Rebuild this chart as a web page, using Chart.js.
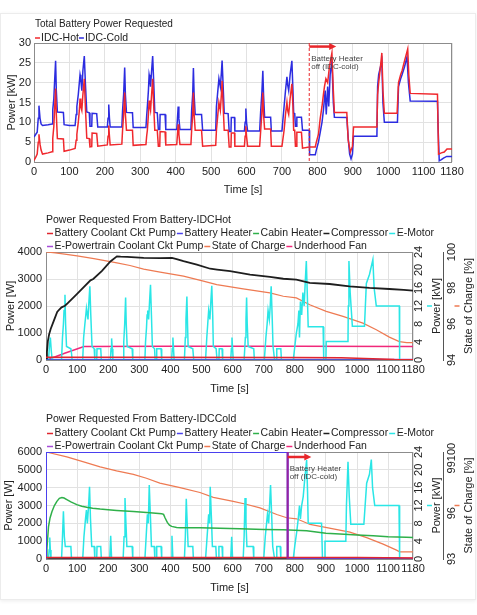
<!DOCTYPE html>
<html><head><meta charset="utf-8">
<script src="https://cdn.jsdelivr.net/npm/chart.js@4.4.1/dist/chart.umd.min.js"></script>
<style>
html,body{margin:0;padding:0;background:#fff;width:477px;height:615px;overflow:hidden}
.card{position:absolute;left:0;top:13px;width:474px;height:585px;border:1px solid #ececec;box-shadow:0 1px 4px rgba(0,0,0,0.08);background:#fff}
canvas{position:absolute;left:0}
</style></head><body>
<div class="card"></div>
<canvas id="c1" width="477" height="200" style="top:0px"></canvas>
<canvas id="c2" width="477" height="200" style="top:200px"></canvas>
<canvas id="c3" width="477" height="200" style="top:400px"></canvas>
<script>
// ---------- tick labels ----------
const timeTicks = [0,100,200,300,400,500,600,700,800,900,1000,1100,1180];
const socTicksHot = [94,96,98,100];
const socTicksCold = [93,96,99,100];
const heaterOffT = 777;      // battery heater switched off (IDC-cold)
const arrowEndT = 853;

// ---------- chart 1: total battery power [kW] ----------
const idcHot = [[0,0.4],[5,1.2],[9,2],[12,5],[14,7],[17,4.5],[20,3],[24,2],[40,2.3],[51,2.6],[53,6],[56,9],[58,13],[61,18.5],[63,12],[66,5.9],[83,5.8],[85,2.7],[100,3],[116,3.4],[119,5.5],[121,7],[125,10],[128,13],[130,16],[132,14],[135,13],[138,17],[142,21],[145,14],[149,6],[156,5.9],[158,3.8],[163,3.9],[164,7.3],[177,7.2],[180,4],[207,4.3],[209,6.5],[211,9.2],[213,6.5],[215,4.3],[248,4.5],[250,8],[253,12],[256,17.5],[258,12],[261,8],[278,8],[280,4.2],[316,4.4],[318,6.5],[320,8],[323,12],[325,15.5],[327,14],[329,13],[332,17],[335,21],[338,14],[341,8],[348,8],[351,4],[355,4],[356,7.7],[370,7.6],[372,4.3],[403,4.4],[405,7],[407,9.5],[409,7],[412,4.4],[443,4.4],[445,8],[448,12],[450,17.5],[452,12],[455,8],[473,8],[476,4],[513,4.2],[515,8],[518,11],[522,15],[524,14],[526,13],[529,17],[531,20.5],[534,14],[537,8],[548,8],[551,3.8],[556,3.8],[557,7.3],[566,7.3],[567,4],[594,4],[596,6.5],[598,9],[600,6.5],[603,4],[637,4],[640,8],[643,12],[646,17.5],[648,12],[651,8.3],[668,8.3],[670,4],[700,4],[703,6],[706,8],[710,12],[714,15],[716,13],[719,12],[723,16],[728,19.7],[731,14],[733,8],[736,8],[738,4],[741,4],[742,7.5],[755,7.5],[758,3.5],[777,3.8],[794,3.8],[797,5],[803,7],[808,11],[813,14],[817,17],[820,19],[824,21],[829,20],[834,24],[841,27.5],[845,18],[848,12.5],[883,12.5],[887,5.5],[893,2.5],[899,4],[902,8.8],[968,8.8],[970,17],[973,20],[978,24],[982,27.5],[985,18],[989,12.3],[1025,12.3],[1029,20],[1035,22],[1039,23],[1046,25.5],[1055,28.5],[1058,22],[1062,17.3],[1139,17.1],[1142,2],[1150,2.3],[1158,2.5],[1166,3.3],[1180,3.3]];
const idcCold = [[0,6.3],[5,7],[9,7.5],[12,11],[14,14.2],[17,11],[20,9.6],[24,9.2],[40,9.4],[51,9.6],[53,13.2],[56,16],[58,20],[61,25.5],[63,18],[66,12.6],[83,12.5],[85,9.4],[100,9.2],[116,9.2],[119,12],[121,14],[125,17],[128,20],[130,22],[132,21],[135,18],[138,23],[142,26.7],[145,20],[149,12.6],[156,12.4],[158,9],[163,9],[164,12.3],[177,12.2],[180,8.8],[207,8.8],[209,11],[211,14.5],[213,11],[215,8.8],[248,8.8],[250,13],[253,17],[256,23.8],[258,17],[261,12.5],[278,12.4],[280,8.7],[316,8.7],[318,11.5],[320,14],[323,18],[325,22],[327,21],[329,19],[332,23],[335,26.7],[338,20],[341,12.5],[348,12.4],[351,8.2],[355,8.2],[356,12],[370,12],[372,8.2],[403,8.2],[405,11],[407,14],[409,11],[412,8.2],[443,8.2],[445,13],[448,17],[450,23.7],[452,17],[455,12],[473,12],[476,8],[513,8],[515,14],[518,17],[522,21],[524,20],[526,19],[529,22.5],[531,25.6],[534,19],[537,12.3],[548,12.2],[551,7.7],[556,7.7],[557,11.2],[566,11.2],[567,7.8],[594,7.8],[596,10],[598,13.5],[600,10],[603,7.8],[637,7.8],[640,13],[643,17],[646,23],[648,17],[651,11.3],[668,11.3],[670,7.8],[700,7.8],[703,11],[706,14],[710,18],[714,21.5],[716,19.5],[719,18],[723,22],[728,25.5],[731,18],[733,12.3],[736,12.2],[738,9],[741,9],[742,11.3],[755,11.3],[758,8],[777,8],[778,1.8],[794,1.8],[797,3],[803,5],[808,7.5],[813,10],[817,13],[819,15],[822,18],[825,12],[829,19],[832,14],[836,22],[841,25.5],[845,15],[848,11.3],[883,11.2],[887,6],[891,2],[895,0.8],[899,2],[902,6.5],[968,6.5],[970,19],[973,22],[982,25.5],[985,15],[989,10],[1026,10],[1029,19],[1035,21],[1039,22],[1046,24],[1053,26.5],[1057,20],[1062,15.4],[1139,15.3],[1141,8],[1144,0.3],[1150,0.6],[1156,1],[1165,1.4],[1180,1.4]];

// ---------- chart 2: IDC-Hot components ----------
const hotPump = [[0,100],[300,100],[800,95],[950,80],[1050,50],[1120,15],[1180,10]];
const hotHeater = [[0,0],[1180,0]];
const hotCabin = [[0,0],[1180,0]];
const hotCompressor = [[0,0],[3,300],[6,700],[10,950],[15,1150],[25,1450],[36,1780],[42,1860],[50,1950],[61,2010],[70,2110],[100,2450],[143,2950],[152,3000],[180,3300],[207,3650],[228,3840],[240,3830],[261,3820],[314,3780],[367,3770],[405,3780],[420,3740],[442,3660],[485,3530],[528,3380],[550,3350],[592,3290],[656,3160],[720,3080],[763,3010],[805,2980],[848,2860],[912,2815],[976,2730],[1040,2670],[1104,2630],[1150,2600],[1180,2570]];
const hotEMotor = [[0,0],[8,0],[11,3],[14,5],[17,2],[20,0],[50,0],[53,5],[56,8],[58,11],[61,14.5],[63,8],[66,3],[80,2.5],[82,1.5],[84,0],[118,0],[121,5],[125,8],[128,10],[130,11.5],[133,10],[135,9],[138,13],[141,16.4],[144,10],[148,3],[155,2.5],[157,0],[163,0],[164,2.5],[176,2.5],[178,0],[207,0],[209,2.5],[211,4.8],[213,2.5],[215,0],[248,0],[250,4],[253,8],[256,13.9],[258,8],[261,3],[277,2.5],[279,0],[318,0],[320,4],[323,7],[325,10],[327,11],[330,9],[333,13],[336,16.7],[339,10],[342,3],[349,2.5],[351,0],[355,0],[356,2.5],[370,2.5],[372,0],[404,0],[406,2.5],[408,5],[410,2.5],[412,0],[445,0],[448,5],[450,9],[453,14.1],[455,8],[457,3],[472,2.5],[475,0],[513,0],[517,5],[520,8],[523,11],[525,10],[527,9],[530,13],[533,16.5],[536,10],[538,3],[547,2.5],[550,0],[556,0],[557,2.5],[566,2.5],[568,0],[594,0],[596,2.5],[598,5],[600,2.5],[602,0],[637,0],[641,5],[643,9],[645,13.9],[647,8],[650,3],[668,2.5],[670,0],[702,0],[707,5],[711,8],[714,11],[718,9],[721,12],[724,16.4],[727,10],[730,3],[735,0],[741,0],[742,2.5],[755,2.5],[757,0],[795,0],[800,3],[805,6],[810,8],[813,11],[815,5],[818,13],[822,10],[826,15],[830,12],[834,18],[837,22],[840,15],[843,7.4],[891,7.4],[893,0],[900,0],[901,4.1],[971,4.1],[972,12],[974,22],[978,15],[985,7.5],[1024,7.5],[1030,17],[1040,19],[1051,22.3],[1055,16],[1062,12],[1136,12],[1137,0],[1180,0]];
const hotEPTPump = [[0,20],[1180,20]];
const hotSoC = [[0,100],[30,99.95],[60,99.88],[100,99.78],[154,99.63],[228,99.4],[270,99.25],[314,99.05],[367,98.88],[442,98.66],[506,98.38],[549,98.19],[634,97.95],[720,97.73],[763,97.54],[805,97.45],[848,97.07],[901,96.7],[955,96.42],[1019,96.05],[1062,95.68],[1104,95.27],[1136,95.02],[1160,94.97],[1180,94.97]];
const hotFan = [[0,0],[30,120],[60,250],[122,500],[400,505],[800,505],[1180,500]];

// ---------- chart 3: IDC-Cold components ----------
const coldPump = [[0,90],[600,90],[1000,80],[1180,60]];
const coldHeater = [[0,0],[0,6000],[777,6000],[777,0],[1180,0]];
const coldCabin = [[0,0],[3,600],[8,1800],[13,2300],[19,2650],[27,3000],[35,3230],[43,3400],[51,3450],[58,3420],[67,3330],[80,3200],[99,3050],[115,2960],[131,2900],[150,2850],[174,2800],[200,2760],[227,2720],[281,2660],[334,2590],[372,2540],[378,2500],[383,2300],[390,2050],[397,1900],[404,1830],[420,1770],[431,1750],[495,1750],[559,1720],[623,1690],[700,1660],[763,1640],[838,1580],[900,1450],[945,1400],[1000,1350],[1052,1300],[1100,1250],[1159,1220],[1180,1200]];
const coldCompressor = [[0,0],[1180,0]];
const coldEMotor = [[0,0],[8,0],[10,2],[12,4.8],[14,2],[16,0],[50,0],[53,5],[56,10.7],[59,5],[62,2.8],[80,2.8],[82,0],[118,0],[122,5],[127,9],[130,11],[133,8],[137,12],[140,16.2],[143,9],[147,2.8],[155,2.8],[157,0],[163,0],[164,2.8],[176,2.8],[178,0],[205,0],[208,5.2],[211,0],[248,0],[251,5],[254,13.7],[257,8],[260,2.8],[277,2.8],[279,0],[318,0],[322,5],[326,10],[329,8],[332,16.6],[336,9],[339,2.8],[348,2.8],[350,0],[355,0],[356,2.8],[370,2.8],[372,0],[402,0],[405,5.2],[408,0],[445,0],[448,5],[451,13.5],[454,8],[457,2.8],[472,2.8],[474,0],[513,0],[518,5],[523,10],[526,8],[528,16.2],[532,9],[535,2.8],[546,2.8],[548,0],[555,0],[556,2.8],[566,2.8],[568,0],[594,0],[597,5],[600,0],[634,0],[637,5],[640,13.7],[643,8],[646,2.8],[666,2.8],[668,0],[700,0],[705,5],[712,10],[716,8],[722,16.6],[726,9],[729,2.8],[735,0],[741,0],[742,2.8],[753,2.8],[755,0],[795,0],[800,3],[806,6],[811,9],[815,12],[818,9],[822,12],[827,14],[832,18],[838,22.2],[841,15],[843,8],[886,8],[889,0],[895,0],[897,4],[964,4],[966,12],[971,21.8],[975,14],[980,7.8],[1022,7.8],[1031,17],[1040,19],[1046,22.3],[1050,16],[1057,12],[1135,12],[1137,0],[1180,0]];
const coldEPTPump = [[0,15],[1180,15]];
const coldSoC = [[0,100],[67,99.68],[121,99.35],[174,99.03],[227,98.77],[281,98.54],[323,98.28],[366,97.96],[431,97.67],[495,97.35],[538,97.03],[602,96.77],[640,96.6],[688,96.34],[742,95.91],[774,95.7],[806,95.63],[849,95.26],[903,95.05],[977,94.76],[1031,94.4],[1084,93.97],[1127,93.58],[1137,93.47],[1180,93.47]];
const coldFan = [[0,40],[1180,40]];

// ---------- styling ----------
const FONT = "'Liberation Sans', Arial, Helvetica, sans-serif";
Chart.defaults.font.family = FONT;
Chart.defaults.font.size = 11;
Chart.defaults.color = '#222';
const C = {hot:'#f0282d', cold:'#2c2ce0', pump:'#e0262e', heater:'#4a40ee', cabin:'#2fb04a', comp:'#1e1e1e', emotor:'#2ae6e6', ept:'#a64dd8', soc:'#ee7a52', fan:'#f0287a'};
const GRID = '#e2e2e2';
const plain = v => String(v);

function pts(a){ return a.map(p => ({x:p[0], y:p[1]})); }
function line(label, arr, color, axis, w){
  return {label, data: pts(arr), borderColor: color, backgroundColor: color, borderWidth: w || 1.5,
          pointRadius: 0, tension: 0, fill: false, yAxisID: axis || 'y'};
}

const deco = {
  id: 'deco',
  beforeDatasetsDraw(chart, args, o){
    const a = chart.chartArea, ctx = chart.ctx;
    ctx.save(); ctx.strokeStyle = '#8c8c8c'; ctx.lineWidth = 1;
    ctx.strokeRect(Math.round(a.left)+0.5, Math.round(a.top)+0.5, Math.round(a.right-a.left)-1, Math.round(a.bottom-a.top));
    ctx.restore();
  },
  afterDraw(chart, args, o){
    const ctx = chart.ctx, a = chart.chartArea;
    ctx.save();
    ctx.textBaseline = 'middle'; ctx.textAlign = 'left'; ctx.fillStyle = '#222';
    ctx.font = o.titleFont; ctx.fillText(o.title, o.titleX, o.titleY);
    ctx.font = o.legendFont;
    let x = o.titleX, row = 0;
    chart.data.datasets.forEach((ds, i) => {
      if (o.legendBreak && i === o.legendBreak){ row = 1; x = o.titleX; }
      const y = o.legendY[row];
      x += o.mk[0];
      ctx.strokeStyle = ds.borderColor; ctx.lineWidth = 1.5;
      ctx.beginPath(); ctx.moveTo(x, y); ctx.lineTo(x + o.mk[1], y); ctx.stroke();
      x += o.mk[1] + o.mk[2];
      ctx.fillStyle = '#222'; ctx.fillText(ds.label, x, y);
      x += ctx.measureText(ds.label).width;
    });
    (o.rightAxes || []).forEach(r => {
      const s = chart.scales[r.id];
      ctx.fillStyle = '#222'; ctx.textAlign = 'center'; ctx.textBaseline = 'middle';
      ctx.font = '11px ' + FONT;
      s.ticks.forEach(t => {
        const y = s.getPixelForValue(t.value);
        ctx.save(); ctx.translate(s.left + r.labelDx, y); ctx.rotate(-Math.PI/2); ctx.fillText(String(t.value), 0, 0); ctx.restore();
      });
      const cy = (a.top + a.bottom) / 2;
      ctx.save(); ctx.translate(s.left + r.titleDx, cy); ctx.rotate(-Math.PI/2); ctx.fillText(r.title, 0, 0); ctx.restore();
      ctx.strokeStyle = r.marker; ctx.lineWidth = 1.5;
      ctx.beginPath(); ctx.moveTo(s.left + r.markerDx - 2.5, cy); ctx.lineTo(s.left + r.markerDx + 2.5, cy); ctx.stroke();
    });
    if (o.note){
      const n = o.note, xs = chart.scales.x, ys = chart.scales.y;
      const x0 = xs.getPixelForValue(n.t), x1 = xs.getPixelForValue(n.arrowT);
      ctx.strokeStyle = n.lineColor; ctx.lineWidth = n.lineW;
      ctx.setLineDash(n.dash || []);
      ctx.beginPath(); ctx.moveTo(x0, a.top); ctx.lineTo(x0, a.bottom); ctx.stroke();
      ctx.setLineDash([]);
      const ay = ys.getPixelForValue(n.arrowV);
      ctx.strokeStyle = '#e8262a'; ctx.fillStyle = '#e8262a'; ctx.lineWidth = 2.5;
      ctx.beginPath(); ctx.moveTo(x0, ay); ctx.lineTo(x1 - 6, ay); ctx.stroke();
      ctx.beginPath(); ctx.moveTo(x1, ay); ctx.lineTo(x1 - 7, ay - 3.5); ctx.lineTo(x1 - 7, ay + 3.5); ctx.closePath(); ctx.fill();
      ctx.fillStyle = '#444'; ctx.font = '8px ' + FONT; ctx.textAlign = 'left';
      ctx.fillText('Battery Heater', x0 + 2, ys.getPixelForValue(n.text1V));
      ctx.fillText('off (IDC-cold)', x0 + 2, ys.getPixelForValue(n.text2V));
    }
    ctx.restore();
  }
};

function xAxis(h, padTop, padBottom){
  return {type:'linear', min:0, max:1180,
    afterBuildTicks: s => { s.ticks = timeTicks.map(v => ({value:v})); },
    afterFit: s => { s.height = h; },
    grid:{color:GRID, drawTicks:false}, border:{display:false},
    ticks:{autoSkip:false, maxRotation:0, padding:padTop, font:{size:11}, callback: plain},
    title:{display:true, text:'Time [s]', font:{size:11}, padding:{top:0, bottom:padBottom}}};
}
function yAxis(min, max, step, w, title, titlePad, tickPad){
  return {type:'linear', position:'left', min, max,
    afterFit: s => { s.width = w; },
    ticks:{stepSize:step, padding:tickPad, font:{size:11}, callback: plain},
    grid:{color:GRID, drawTicks:false}, border:{display:false},
    title:{display:true, text:title, font:{size:11}, padding:{top:titlePad, bottom:0}}};
}
function kwAxis(){
  return {type:'linear', position:'right', min:0, max:24, weight:0,
    afterFit: s => { s.width = 30; },
    ticks:{display:false, stepSize:4, callback: plain}, grid:{display:false}, border:{display:false}};
}
function socAxis(min, ticks){
  return {type:'linear', position:'right', min, max:100, weight:1,
    afterBuildTicks: s => { s.ticks = ticks.map(v => ({value:v})); },
    afterFit: s => { s.width = 34; },
    ticks:{display:false, callback: plain}, grid:{display:false, drawTicks:false}, border:{display:true, color:'#555', width:1}};
}

// chart 1
new Chart(document.getElementById('c1'), {
  type:'line',
  data:{datasets:[ line('IDC-Hot', idcHot, C.hot), line('IDC-Cold', idcCold, C.cold) ]},
  options:{responsive:false, animation:false, devicePixelRatio:1,
    layout:{padding:{top:43, right:25, left:0, bottom:0}},
    scales:{ x: xAxis(38, 3.4, 3.4), y: yAxis(0, 30, 5, 34, 'Power [kW]', 5.4, 3) },
    plugins:{legend:{display:false}, tooltip:{enabled:false},
      deco:{title:'Total Battery Power Requested', titleFont:'10px '+FONT, titleX:35, titleY:24,
        legendFont:'10.5px '+FONT, legendY:[38], mk:[0,5,1],
        note:{t:heaterOffT, arrowT:arrowEndT, arrowV:29.1, text1V:26.1, text2V:24, lineColor:'#e8262a', lineW:1, dash:[3,2]}}}},
  plugins:[deco]
});

const rightAx = [
  {id:'yk', labelDx:6, title:'Power [kW]', titleDx:23.5, marker:C.emotor, markerDx:16.5},
  {id:'ys', labelDx:8.5, title:'State of Charge [%]', titleDx:25.5, marker:C.soc, markerDx:14}
];

// chart 2
new Chart(document.getElementById('c2'), {
  type:'line',
  data:{datasets:[
    line('Battery Coolant Ckt Pump', hotPump, C.pump),
    line('Battery Heater', hotHeater, C.heater),
    line('Cabin Heater', hotCabin, C.cabin),
    line('Compressor', hotCompressor, C.comp, 'y', 1.8),
    line('E-Motor', hotEMotor, C.emotor, 'yk'),
    line('E-Powertrain Coolant Ckt Pump', hotEPTPump, C.ept),
    line('State of Charge', hotSoC, C.soc, 'ys', 1.2),
    line('Underhood Fan', hotFan, C.fan)
  ]},
  options:{responsive:false, animation:false, devicePixelRatio:1,
    layout:{padding:{top:52, right:0, left:0, bottom:0}},
    scales:{ x: xAxis(40, 3.4, 4.4), y: yAxis(0, 4000, 1000, 46, 'Power [W]', 4.2, 4), yk: kwAxis(), ys: socAxis(94, socTicksHot) },
    plugins:{legend:{display:false}, tooltip:{enabled:false},
      deco:{title:'Power Requested From Battery-IDCHot', titleFont:'10.5px '+FONT, titleX:46, titleY:20,
        legendFont:'10.5px '+FONT, legendY:[33.5, 46.5], legendBreak:5, mk:[1,6,1.5], rightAxes:rightAx}}},
  plugins:[deco]
});

// chart 3
new Chart(document.getElementById('c3'), {
  type:'line',
  data:{datasets:[
    line('Battery Coolant Ckt Pump', coldPump, C.pump),
    line('Battery Heater', coldHeater, C.heater, 'y', 2),
    line('Cabin Heater', coldCabin, C.cabin),
    line('Compressor', coldCompressor, C.comp),
    line('E-Motor', coldEMotor, C.emotor, 'yk'),
    line('E-Powertrain Coolant Ckt Pump', coldEPTPump, C.ept),
    line('State of Charge', coldSoC, C.soc, 'ys', 1.2),
    line('Underhood Fan', coldFan, C.fan)
  ]},
  options:{responsive:false, animation:false, devicePixelRatio:1,
    layout:{padding:{top:52, right:0, left:0, bottom:0}},
    scales:{ x: xAxis(41, 3.4, 5.4), y: yAxis(0, 6000, 1000, 46, 'Power [W]', 2.6, 4), yk: kwAxis(), ys: socAxis(93, socTicksCold) },
    plugins:{legend:{display:false}, tooltip:{enabled:false},
      deco:{title:'Power Requested From Battery-IDCCold', titleFont:'10.5px '+FONT, titleX:46, titleY:19,
        legendFont:'10.5px '+FONT, legendY:[33.5, 46.5], legendBreak:5, mk:[1,6,1.5], rightAxes:rightAx,
        note:{t:heaterOffT, arrowT:arrowEndT, arrowV:5720, text1V:5050, text2V:4620, lineColor:'rgba(160,30,150,0.9)', lineW:2}}}},
  plugins:[deco]
});
</script>
</body></html>
